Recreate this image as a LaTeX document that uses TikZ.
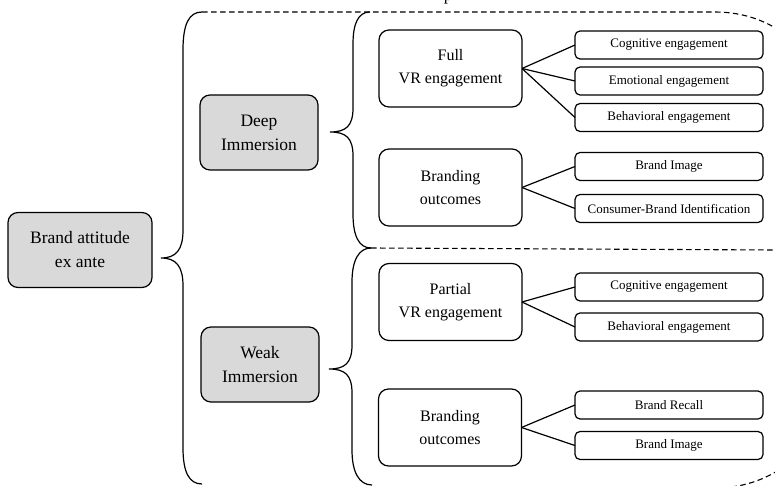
\documentclass[tikz,border=0pt]{standalone}
\usepackage{fontspec}
\setmainfont{Liberation Serif}
\definecolor{boxgray}{HTML}{D9D9D9}
\begin{document}
\begin{tikzpicture}[x=1pt,y=-1pt,
  line width=1.2pt,
  rootbox/.style={draw, rounded corners=10pt, fill=boxgray, align=center,
    inner sep=0pt, outer sep=0pt, minimum height=75pt,
    font=\fontsize{17.5}{24}\selectfont},
  midbox/.style={draw, rounded corners=10pt, fill=white, align=center,
    inner sep=0pt, outer sep=0pt, minimum width=143pt, minimum height=77pt,
    font=\fontsize{16}{23}\selectfont},
  leafbox/.style={draw, rounded corners=5pt, fill=white, align=center,
    inner sep=0pt, outer sep=0pt, minimum width=188pt, minimum height=28pt,
    font=\fontsize{13}{15}\selectfont},
  link/.style={draw, line width=1.2pt},
  bracket/.style={draw, line width=1.2pt},
  region/.style={draw, line width=1.1pt, dash pattern=on 5.5pt off 3.5pt}]

\useasboundingbox (0,0) rectangle (775,486);

% root and immersion levels
\node[rootbox, minimum width=144pt] (attitude) at (80,250) {Brand attitude\\ex ante};
\node[rootbox, minimum width=118pt] (deep) at (259,132.5) {Deep\\Immersion};
\node[rootbox, minimum width=118pt] (weak) at (260,364.5) {Weak\\Immersion};

% engagement / outcome groups
\node[midbox] (full) at (450.5,68.5) {Full\\VR engagement};
\node[midbox] (bout1) at (450.5,187.5) {Branding\\outcomes};
\node[midbox] (partial) at (450.5,302) {Partial\\VR engagement};
\node[midbox] (bout2) at (450,427.5) {Branding\\outcomes};

% leaves
\node[leafbox] (cog1) at (669,45) {Cognitive engagement};
\node[leafbox] (emo1) at (669,81) {Emotional engagement};
\node[leafbox] (beh1) at (669,117.5) {Behavioral engagement};
\node[leafbox] (img1) at (669,166.5) {Brand Image};
\node[leafbox] (cbi) at (669,208.5) {Consumer-Brand Identification};
\node[leafbox] (cog2) at (669,287) {Cognitive engagement};
\node[leafbox] (beh2) at (669,327) {Behavioral engagement};
\node[leafbox] (rec) at (669,405) {Brand Recall};
\node[leafbox] (img2) at (669,445.5) {Brand Image};

% label running off the top edge
\node[anchor=base, inner sep=0pt, font=\fontsize{17}{20}\selectfont] (toplabel) at (448,1) {p};

% connectors
\path[link] (full.east) -- (cog1.west);
\path[link] (full.east) -- (emo1.west);
\path[link] (full.east) -- (beh1.west);
\path[link] (bout1.east) -- (img1.west);
\path[link] (bout1.east) -- (cbi.west);
\path[link] (partial.east) -- (cog2.west);
\path[link] (partial.east) -- (beh2.west);
\path[link] (bout2.east) -- (rec.west);
\path[link] (bout2.east) -- (img2.west);

% brace points
\coordinate (bigtop) at (202,12);
\coordinate (bigtip) at (161,258);
\coordinate (bigbot) at (202,484);
\coordinate (deeptop) at (370,12);
\coordinate (deeptip) at (330,132);
\coordinate (split) at (371,248);
\coordinate (weaktip) at (329,369);
\coordinate (weakbot) at (372,485);

% large brace
\path[bracket] (bigtop) .. controls (189,12) and (183,24) .. (183,50)
  -- (183,230) .. controls (183,250) and (176,258) .. (bigtip)
  .. controls (176,258) and (183,266) .. (183,286)
  -- (183,448) .. controls (183,472) and (189,484) .. (bigbot);

% deep brace
\path[bracket] (deeptop) .. controls (358,12) and (353,24) .. (353,44)
  -- (353,108) .. controls (353,126) and (346,132) .. (deeptip)
  .. controls (346,132) and (353,138) .. (353,156)
  -- (353,214) .. controls (353,236) and (359,248) .. (split);

% weak brace
\path[bracket] (split) .. controls (359,248) and (352,260) .. (352,282)
  -- (352,345) .. controls (352,363) and (345,369) .. (weaktip)
  .. controls (345,369) and (352,375) .. (352,393)
  -- (352,450) .. controls (352,472) and (359,485) .. (weakbot);

% dashed regions: outer frame with rounded right corners, and the split line
\path[region] (bigtop) -- (715,12)
  .. controls (745,12) and (770,22) .. (790,38)
  -- (822,120) -- (822,380) -- (790,462)
  .. controls (770,478) and (745,488) .. (715,488)
  -- (600,488);
\path[region] (split) -- (775,250);

\end{tikzpicture}
\end{document}
